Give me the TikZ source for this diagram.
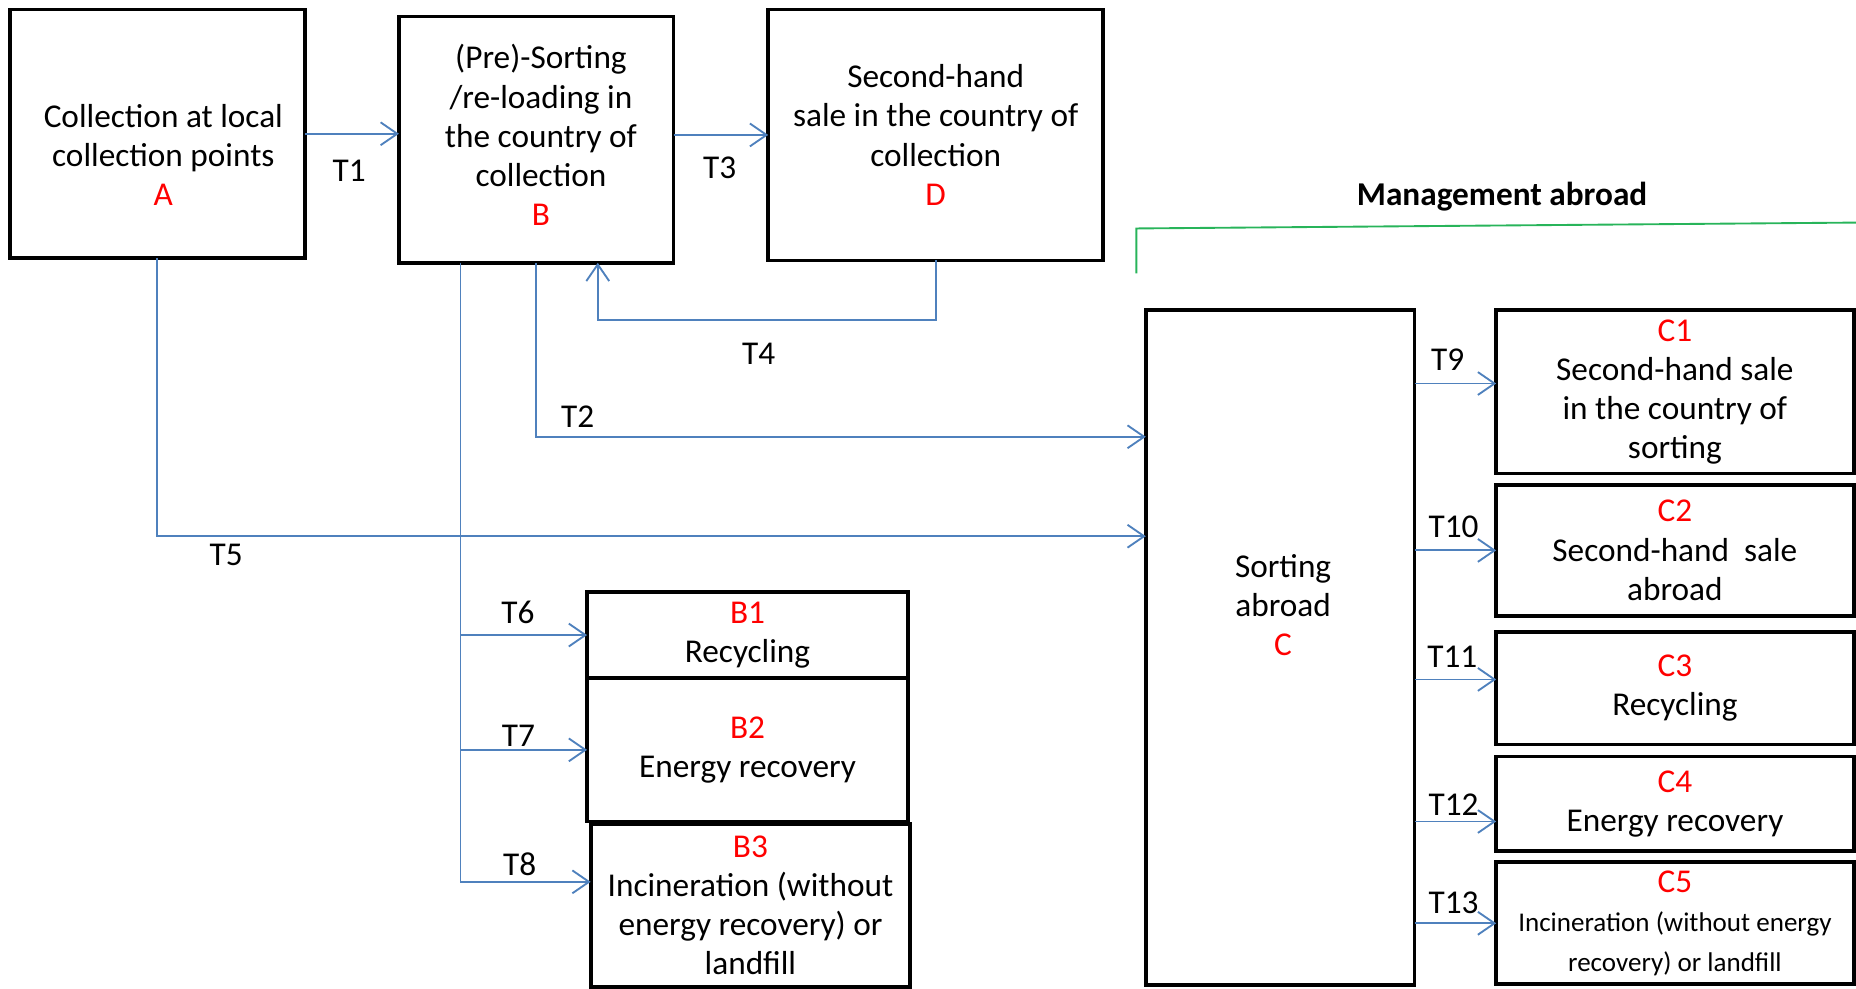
\documentclass[tikz,border=0pt]{standalone}
\usepackage{fontspec}
\setmainfont{Carlito}
\usetikzlibrary{positioning, arrows.meta, calc}
\definecolor{flowblue}{RGB}{79,129,189}
\definecolor{tagred}{RGB}{255,0,0}
\definecolor{abroadgreen}{RGB}{40,180,90}
\newcommand{\boxtag}[1]{\textcolor{tagred}{#1}}
\tikzset{
  chart/.style={
	x=0.2mm, y=-0.2mm, % one unit per pixel of the sketch, y runs down
	font=\fontsize{16}{18.8}\selectfont, % Calibri-like text
	box/.style={draw, line width=1.8pt, align=center, inner sep=0pt, outer sep=0pt}, % the black stations
	flow/.style={->, >={Straight Barb[length=8pt,width=11pt]}, draw=flowblue, line width=0.9pt}, % the blue transports
	tlabel/.style={inner sep=1pt}, % the T labels
  }
}

\begin{document}
\begin{tikzpicture}[chart]
\useasboundingbox (0,0) rectangle (1568,835);
% collection side
\node[box, minimum width=4.98cm, minimum height=4.2cm, label={[align=center, xshift=0.1cm, yshift=-0.36cm]center:{Collection at local\\collection points\\\boxtag{A}}}] (A) at (133,113) {};
\node[box, minimum width=4.64cm, minimum height=4.16cm, label={[align=center, xshift=0.08cm, yshift=0.08cm]center:{(Pre)-Sorting\\/re-loading in\\the country of\\collection\\\boxtag{B}}}] (B) at (453,118) {};
\node[box, minimum width=5.66cm, minimum height=4.24cm] (D) at (790.5,114) {Second-hand\\sale in the country of\\collection\\\boxtag{D}};
\node[box, minimum width=5.42cm, minimum height=1.46cm] (B1) at (631.5,536.5) {\boxtag{B1}\\Recycling};
\node[box, minimum width=5.42cm, minimum height=2.42cm, below=0pt of B1] (B2) {\boxtag{B2}\\Energy recovery};
\node[box, minimum width=5.4cm, minimum height=2.76cm, below=0.04cm of B2, xshift=0.05cm] (B3) {\boxtag{B3}\\Incineration (without\\energy recovery) or\\landfill};
% management abroad
\node[font=\fontsize{16}{18.8}\selectfont\bfseries] (mgmt) at (1269,166) {Management abroad};
\draw[abroadgreen, line width=0.9pt] (960,231) -- (960,193) -- (1572,188);
\node[box, minimum width=4.54cm, minimum height=11.4cm, label={[align=center, xshift=0.05cm, yshift=0.72cm]center:{Sorting\\abroad\\\boxtag{C}}}] (C) at (1081.5,547) {};
\node[box, minimum width=6.04cm, minimum height=2.76cm] (C1) at (1415,331) {\boxtag{C1}\\Second-hand sale\\in the country of\\sorting};
\node[box, minimum width=6.04cm, minimum height=2.22cm, below=0.19cm of C1] (C2) {\boxtag{C2}\\Second-hand\ \ sale\\abroad};
\node[box, minimum width=6.04cm, minimum height=1.9cm, below=0.27cm of C2] (C3) {\boxtag{C3}\\Recycling};
\node[box, minimum width=6.04cm, minimum height=1.6cm, below=0.2cm of C3] (C4) {\boxtag{C4}\\Energy recovery};
\node[box, minimum width=6.04cm, minimum height=2.06cm, below=0.19cm of C4] (C5) {\boxtag{C5}\\{\fontsize{13}{16}\selectfont Incineration\ (without energy}\\{\fontsize{13}{16}\selectfont recovery) or landfill}};
% ends of the transports
\coordinate (trunk) at ([xshift=-1.28cm]B.south);
\coordinate (t4in) at ([xshift=1.04cm]B.south);
\coordinate (t2in) at ([yshift=3.56cm]C.west);
\coordinate (t5in) at ([yshift=1.88cm]C.west);
\coordinate (t8in) at ([yshift=0.4cm]B3.west);
\coordinate (t9in) at ([yshift=0.14cm]C1.west);
\coordinate (t11in) at ([yshift=0.15cm]C3.west);
\coordinate (t12in) at ([yshift=-0.3cm]C4.west);
% transports
\draw[flow] (A.east) -- (A.east -| B.west);
\draw[flow] (D.west -| B.east) -- (D.west);
\draw[flow] (D.south) -- ++(0,50) -| (t4in);
\draw[flow] (B.south) |- (t2in);
\draw[flow] (A.south) |- (t5in);
\draw[flow] (trunk) |- (B1.west);
\draw[flow] (trunk) |- (B2.west);
\draw[flow] (trunk) |- (t8in);
\draw[flow] (C.east |- t9in) -- (t9in);
\draw[flow] (C.east |- C2.west) -- (C2.west);
\draw[flow] (C.east |- t11in) -- (t11in);
\draw[flow] (C.east |- t12in) -- (t12in);
\draw[flow] (C.east |- C5.west) -- (C5.west);
% labels of the transports
\node[tlabel] (lT1) at (295,144) {T1};
\node[tlabel] (lT2) at (488,352) {T2};
\node[tlabel] (lT3) at (608,142) {T3};
\node[tlabel] (lT4) at (641,299) {T4};
\node[tlabel] (lT5) at (191,469) {T5};
\node[tlabel] (lT6) at (437.5,517) {T6};
\node[tlabel] (lT7) at (438,621.5) {T7};
\node[tlabel] (lT8) at (439,730) {T8};
\node[tlabel] (lT9) at (1223,304) {T9};
\node[tlabel] (lT10) at (1228,445) {T10};
\node[tlabel] (lT11) at (1227,555) {T11};
\node[tlabel] (lT12) at (1228,680) {T12};
\node[tlabel] (lT13) at (1228,763) {T13};
\end{tikzpicture}
\end{document}
